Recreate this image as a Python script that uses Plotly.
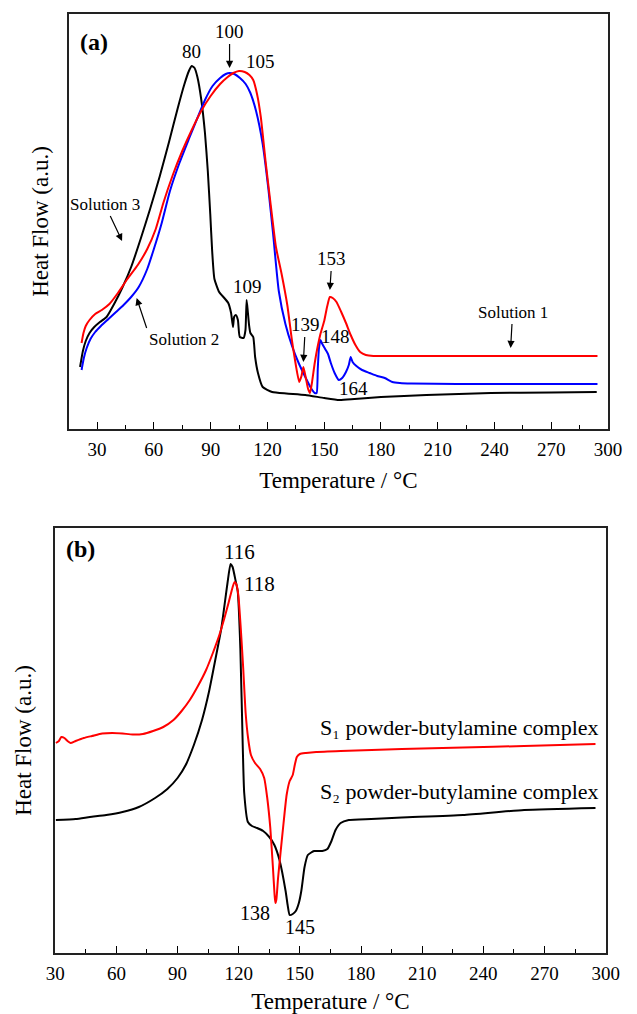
import plotly.graph_objects as go

W, H = 637, 1014
FONT = "Liberation Serif, Times New Roman, serif"

# ---------------- (a) DSC curves of the three solutions ----------------
# Solution 1 (red)
sol1_temp = [21.8, 22.8, 24.0, 26.0, 29.0, 32.5, 36.5, 41.0, 46.0, 51.5, 56.5, 61.0, 65.0,
             70.0, 75.0, 80.0, 85.0, 90.0, 95.0, 99.0, 102.0, 105.0, 108.0, 110.5, 112.5,
             114.5, 116.5, 119.0, 121.5, 124.5, 127.5, 130.5, 133.0, 135.0, 136.8, 138.0,
             139.0, 140.2, 141.5, 142.5, 143.5, 145.0, 146.5, 148.0, 150.0, 151.5, 153.0,
             154.5, 156.5, 159.0, 161.5, 164.0, 166.5, 169.0, 172.0, 176.0, 182.0, 200.0,
             250.0, 294.4]
sol1_flow = [86, 96, 103, 109, 115, 119, 125, 136, 150, 164, 180, 200, 226,
             254, 278, 299, 318, 333, 345, 352, 356, 358, 357, 354, 349,
             335, 312, 268, 228, 182, 155, 124, 88, 64, 47, 53,
             62, 52, 40, 36, 46, 66, 82, 95, 108, 122, 132,
             131, 127, 117, 106, 94, 84, 77, 74, 73, 73, 73,
             73, 73]

# Solution 2 (blue)
sol2_temp = [21.8, 23.0, 24.5, 26.5, 29.0, 32.0, 36.0, 40.0, 44.0, 48.0, 52.0, 56.5, 60.0,
             64.0, 68.5, 73.5, 78.5, 83.0, 87.0, 91.0, 95.0, 98.0, 100.0, 102.5, 105.5,
             108.5, 111.0, 114.0, 117.5, 120.5, 123.0, 126.0, 129.5, 133.0, 136.5, 140.0,
             143.0, 145.0, 146.0, 146.6, 147.2, 148.0, 149.0, 150.5, 152.0, 153.5, 155.5,
             157.7, 159.5, 161.5, 163.0, 164.0, 165.0, 167.0, 170.0, 174.0, 178.0, 182.0,
             186.0, 190.0, 196.0, 220.0, 260.0, 294.4]
sol2_flow = [59, 71, 81, 90, 97, 103, 110, 117, 124, 132, 142, 160, 180,
             205, 238, 266, 290, 311, 329, 343, 351, 355, 356, 355, 351,
             345, 336, 318, 285, 240, 195, 138, 105, 83, 66, 52,
             41, 36, 36, 60, 80, 89, 85, 80, 75, 66, 56,
             49, 51, 57, 64, 72, 67, 63, 59, 56, 53, 51,
             47, 46, 45.5, 45, 45, 45]

# Solution 3 (black)
sol3_temp = [21.0, 22.5, 24.0, 26.0, 28.5, 31.5, 35.0, 39.0, 43.5, 48.0, 53.0, 58.0, 63.0,
             68.0, 72.5, 76.0, 78.5, 80.0, 81.5, 83.0, 85.0, 87.0, 88.5, 89.8, 90.8, 92.0,
             94.5, 97.2, 99.3, 100.8, 101.8, 102.4, 103.3, 104.4, 105.4, 107.4, 108.4,
             109.0, 109.6, 110.3, 111.0, 112.5, 113.5, 115.0, 117.5, 122.5, 130.0, 140.0,
             150.0, 158.0, 166.0, 180.0, 204.0, 238.0, 270.0, 294.0]
sol3_flow = [62, 78, 88, 96, 102, 107, 112, 125, 142, 162, 190, 220, 252,
             287, 320, 344, 358, 363, 361, 352, 330, 296, 258, 215, 178, 150,
             137, 131, 126, 116, 102, 112, 114, 109, 92, 91, 99,
             129, 118, 104, 96, 92, 72, 56, 42, 37, 35.5, 34,
             31, 29, 30, 32, 34, 36, 36.5, 37]

# ------------- (b) DSC curves of the powder-butylamine complexes -------------
s1_temp = [30.3, 31.8, 33.0, 34.5, 36.0, 37.5, 40.0, 44.0, 48.0, 53.0, 58.0, 63.0, 68.0,
           73.0, 78.0, 83.0, 88.0, 92.0, 96.0, 100.0, 104.0, 107.5, 110.5, 113.0, 115.0,
           116.5, 117.5, 118.0, 118.8, 119.8, 121.0, 122.2, 123.4, 124.6, 126.0, 128.0,
           130.5, 132.5, 134.0, 135.5, 136.8, 137.6, 138.0, 138.5, 139.3, 140.5, 142.0,
           143.5, 145.0, 146.5, 147.5, 148.5, 150.0, 153.0, 158.0, 170.0, 200.0, 230.0,
           260.0, 295.0]
s1_flow = [210, 212, 216, 215, 212, 210, 212, 215, 217, 219.5, 220, 219.5, 218.5,
           219, 222, 226, 233, 242, 253, 267, 283, 301, 318, 335, 350,
           362, 369, 371, 369, 358, 325, 285, 240, 215, 198, 190,
           184, 175, 155, 125, 85, 58, 50, 54, 75, 100, 130,
           158, 172, 178, 188, 196, 199, 200, 201, 202, 204, 205.5,
           207, 209]

s2_temp = [30.3, 40.0, 47.0, 55.0, 63.0, 71.0, 79.0, 85.0, 90.0, 94.0, 98.0, 102.0, 105.5,
           108.5, 111.5, 114.5, 116.0, 117.0, 118.5, 119.5, 120.8, 122.0, 122.7, 124.5,
           126.5, 129.0, 132.0, 135.0, 137.5, 140.0, 143.0, 144.0, 145.0, 146.5, 148.0,
           149.5, 150.7, 152.3, 153.9, 157.0, 161.0, 163.5, 165.5, 167.5, 170.0, 174.0,
           185.0, 200.0, 230.0, 260.0, 295.0]
s2_flow = [133, 134, 136, 138, 141, 146, 155, 164, 175, 188, 208, 233, 262,
           293, 325, 370, 389, 386, 372, 362, 305, 205, 160, 131,
           127, 125, 122, 116, 108, 93, 62, 48, 38, 39, 42,
           50, 62, 86, 98, 102, 102, 104, 112, 123, 130, 133,
           134, 135.5, 138, 143, 145]

tick_vals = [30, 60, 90, 120, 150, 180, 210, 240, 270, 300]
x_title = "Temperature / °C"
y_title = "Heat Flow (a.u.)"

RED, BLUE, BLACK = "#ff0000", "#0000ff", "#000000"

fig = go.Figure()

def curve(x, y, color, xa, ya):
    return go.Scatter(x=x, y=y, mode="lines", xaxis=xa, yaxis=ya, showlegend=False,
                      line=dict(color=color, width=2, shape="spline", smoothing=0.5),
                      hoverinfo="skip")

fig.add_trace(curve(sol3_temp, sol3_flow, BLACK, "x", "y"))
fig.add_trace(curve(sol2_temp, sol2_flow, BLUE, "x", "y"))
fig.add_trace(curve(sol1_temp, sol1_flow, RED, "x", "y"))
fig.add_trace(curve(s2_temp, s2_flow, BLACK, "x2", "y2"))
fig.add_trace(curve(s1_temp, s1_flow, RED, "x2", "y2"))

def px_dom(a, b, total):
    return [a / total, b / total]

def xaxis_style(rng, domain, anchor, standoff):
    return dict(
        domain=domain, anchor=anchor, range=rng,
        tickmode="array", tickvals=tick_vals, ticktext=[str(v) for v in tick_vals],
        ticks="inside", ticklen=7, tickwidth=1.3, tickcolor=BLACK,
        minor=dict(dtick=15, tick0=0, ticks="inside", ticklen=4, tickwidth=1.2, tickcolor=BLACK),
        showline=True, mirror=True, linecolor="#222", linewidth=1.5,
        showgrid=False, zeroline=False, ticklabelstandoff=2,
        tickfont=dict(family=FONT, size=19, color=BLACK),
        title=dict(text=x_title, standoff=standoff, font=dict(family=FONT, size=23, color=BLACK)),
    )

def yaxis_style(rng, domain, anchor, standoff):
    return dict(
        domain=domain, anchor=anchor, range=rng,
        showticklabels=False, ticks="", showgrid=False, zeroline=False,
        showline=True, mirror=True, linecolor="#222", linewidth=1.5,
        title=dict(text=y_title, standoff=standoff, font=dict(family=FONT, size=23, color=BLACK)),
    )

fig.update_layout(
    width=W, height=H, margin=dict(l=0, r=0, t=0, b=0),
    paper_bgcolor="white", plot_bgcolor="white",
    xaxis=xaxis_style([15, 300], px_dom(61, 621.5, W), "y", 13),
    yaxis=yaxis_style([0, 415], [1 - 429 / H, 1 - 14 / H], "x", 12),
    xaxis2=xaxis_style([30, 300], px_dom(47, 619, W), "y2", 11),
    yaxis2=yaxis_style([0, 425], [1 - 953 / H, 1 - 528 / H], "x2", 15),
)

ann = []

def label(text, x, y, xa="x", ya="y", size=19, bold=False, xanchor="center"):
    ann.append(dict(text=f"<b>{text}</b>" if bold else text, x=x, y=y, xref=xa, yref=ya,
                    showarrow=False, xanchor=xanchor, yanchor="middle",
                    font=dict(family=FONT, size=size, color=BLACK)))

def pointer(text, x, y, ax, ay, size=19, xanchor="auto", yanchor="auto"):
    # text sits at the arrow tail (ax, ay px from the head at data point x, y)
    ann.append(dict(text=text, x=x, y=y, xref="x", yref="y", ax=ax, ay=ay,
                    xanchor=xanchor, yanchor=yanchor,
                    showarrow=True, arrowhead=2, arrowsize=1.2, arrowwidth=1.2,
                    arrowcolor=BLACK, standoff=0,
                    font=dict(family=FONT, size=size, color=BLACK)))

# panel (a) labels
label("(a)", 28.5, 387, bold=True, size=24)
label(str(80), 79.9, 377)
pointer(str(100), 100, 361, 0, -36)
label(str(105), 116.1, 367)
label(str(109), 109.5, 142)
pointer(str(139), 139, 67, 2, -37)
label(str(148), 155.8, 92)
pointer(str(153), 153, 139, 2, -31)
label(str(164), 165.5, 40)
pointer("Solution 1", 248.5, 81, 2, -35, size=17)
pointer("Solution 2", 50.9, 131, 10, 30, size=17, xanchor="left", yanchor="top")
pointer("Solution 3", 43.2, 188, -17, -36, size=17)

# panel (b) labels
label("(b)", 42.3, 404, "x2", "y2", bold=True, size=24)
label(str(116), 120.5, 401, "x2", "y2", size=21)
label(str(118), 130.4, 369, "x2", "y2", size=21)
label(str(138), 128.0, 40, "x2", "y2", size=20)
label(str(145), 150.1, 26, "x2", "y2", size=20)
label("S\u2081 powder-butylamine complex", 297.6, 226, "x2", "y2", size=22, xanchor="right")
label("S\u2082 powder-butylamine complex", 297.6, 162, "x2", "y2", size=22, xanchor="right")

fig.update_layout(annotations=ann)
fig.write_html("out.html")
